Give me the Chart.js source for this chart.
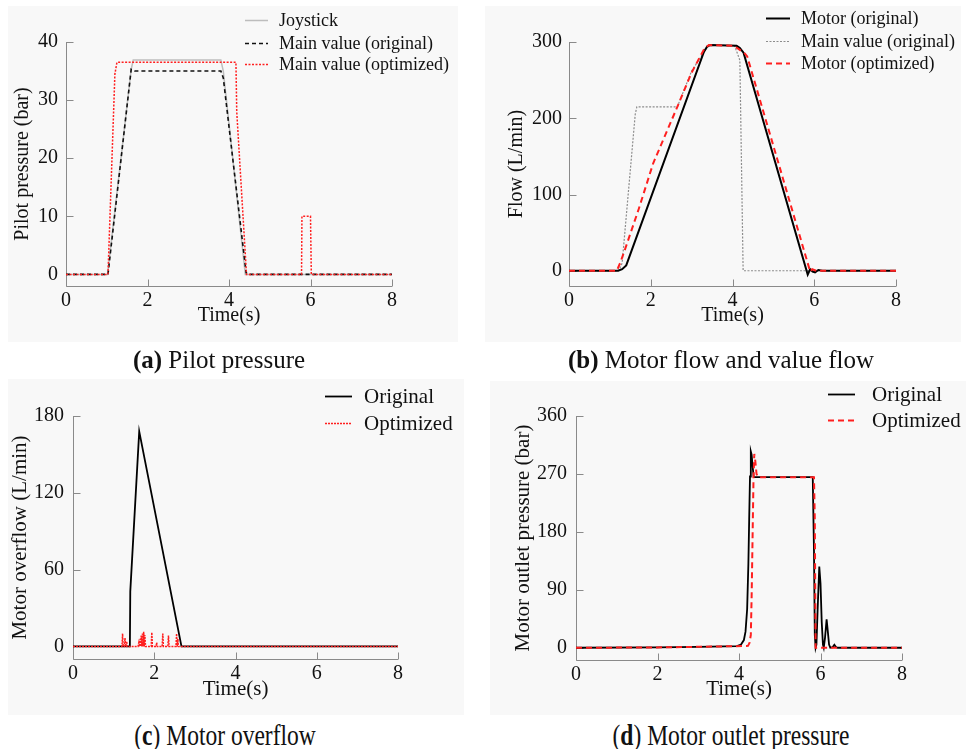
<!DOCTYPE html>
<html>
<head>
<meta charset="utf-8">
<script src="https://cdn.jsdelivr.net/npm/chart.js@4.4.1/dist/chart.umd.min.js"></script>
<style>
  html, body { margin: 0; padding: 0; background: #ffffff; }
  #fig { position: relative; width: 966px; height: 749px; overflow: hidden; font-family: 'Liberation Serif', 'Times New Roman', serif; }
  .bg { position: absolute; background: #f8f8f8; }
  canvas { position: absolute; }
  .cap { position: absolute; font-size: 25px; line-height: 25px; color: #111; white-space: nowrap; transform: translateX(-50%); }
  .cap.tall { transform: translateX(-50%) scale(0.94, 1.18); transform-origin: 50% 50%; }
  .cap b { font-weight: bold; }
</style>
</head>
<body>
<div id="fig">
  <div class="bg" style="left:8px;top:6px;width:450px;height:336px"></div>
  <div class="bg" style="left:485px;top:6px;width:476px;height:336px"></div>
  <div class="bg" style="left:8px;top:379px;width:456px;height:336px"></div>
  <div class="bg" style="left:490px;top:381px;width:476px;height:334px"></div>
  <canvas id="cA" width="480" height="345" style="left:0;top:0"></canvas>
  <canvas id="cB" width="486" height="345" style="left:480px;top:0"></canvas>
  <canvas id="cC" width="480" height="340" style="left:0;top:370px"></canvas>
  <canvas id="cD" width="486" height="340" style="left:480px;top:370px"></canvas>
  <div class="cap" style="left:219px;top:347px"><b>(a)</b> Pilot pressure</div>
  <div class="cap" style="left:721px;top:347px"><b>(b)</b> Motor flow and value flow</div>
  <div class="cap tall" style="left:225px;top:722px">(<b>c</b>) Motor overflow</div>
  <div class="cap tall" style="left:731px;top:722px">(<b>d</b>) Motor outlet pressure</div>
</div>
<script>
// ---- Shared time axis ----
const timeTicks = [0, 2, 4, 6, 8];

// ---- (a) Pilot pressure (bar) ----
const pilotTicks = [0, 10, 20, 30, 40];
const joystickTime = [0, 1.02, 1.6, 1.65, 3.8, 3.86, 4.4, 8];
const joystickVal  = [0, 0, 35.3, 36.9, 36.9, 35.0, 0, 0];
const mainOrigTime = [0, 1.03, 1.6, 1.68, 3.8, 3.86, 4.42, 4.46, 8];
const mainOrigVal  = [0, 0, 35.3, 35.0, 35.0, 33.8, 0.3, 0, 0];
const mainOptTime  = [0, 1.03, 1.2, 1.25, 4.17, 4.19, 4.43, 5.78, 5.79, 6.0, 6.02, 8];
const mainOptVal   = [0, 0, 34.5, 36.5, 36.5, 28.0, 0, 0, 10, 10, 0, 0];

// ---- (b) Motor flow and valve flow (L/min) ----
const flowTicks = [0, 100, 200, 300];
const motorOrigTime = [0, 1.2, 1.3, 1.4, 3.3, 3.38, 3.45, 4.1, 4.18, 4.27, 5.84, 5.9, 5.96, 6.02, 6.1, 6.2, 8];
const motorOrigVal  = [0, 0, 2, 7, 287, 294, 296, 295, 292, 286, -5, 2, -1, -2, 1, 0, 0];
const valveOrigTime = [0, 1.22, 1.3, 1.62, 1.66, 2.65, 3.0, 3.38, 3.45, 4.05, 4.1, 4.18, 4.26, 8];
const valveOrigVal  = [0, 0, 10, 205, 215, 215, 262, 293, 296, 295, 288, 276, 0, 0];
const motorOptTime  = [0, 1.17, 1.25, 1.37, 1.7, 2.06, 2.65, 3.0, 3.3, 3.42, 4.0, 4.12, 4.3, 4.36, 5.9, 5.95, 6.05, 8];
const motorOptVal   = [0, 0, 10, 28, 80, 141, 215, 260, 290, 296, 295, 292, 285, 281, -1, 2, 0, 0];

// ---- (c) Motor overflow (L/min) ----
const overflowTicks = [0, 60, 120, 180];
const overOrigTime = [0, 1.4, 1.41, 1.63, 2.67, 8];
const overOrigVal  = [0, 0, 43, 168, 0, 0];
const overOptTime = [0, 1.205, 1.22, 1.235, 1.265, 1.28, 1.295, 1.31, 1.32, 1.33,
                     1.6, 1.62, 1.635, 1.65, 1.665, 1.68, 1.695, 1.71, 1.725, 1.74, 1.755, 1.77, 1.785,
                     1.925, 1.94, 1.955, 2.045, 2.06, 2.075, 2.195, 2.21, 2.225,
                     2.335, 2.35, 2.365, 2.535, 2.55, 2.565, 2.58, 2.595, 8];
const overOptVal  = [0, 0, 10, 0, 0, 6.5, 0, 0, 4, 0,
                     0, 3, 0, 6, 0, 8.5, 0, 10, 0, 11.5, 0, 9, 0,
                     0, 11, 0, 0, 3, 0, 0, 10, 0,
                     0, 8.5, 0, 0, 10, 0, 6, 0, 0];

// ---- (d) Motor outlet pressure (bar) ----
const outletTicks = [0, 90, 180, 270, 360];
const outletOrigTime = [0, 2, 3, 3.95, 4.05, 4.12, 4.16, 4.2, 4.23, 4.25, 4.27, 4.29, 4.31, 4.33, 4.36,
                        5.81, 5.84, 5.86, 5.88, 5.9, 5.93, 5.97, 6.0, 6.03, 6.06, 6.08, 6.11, 6.15, 6.18, 6.21, 6.24,
                        6.3, 6.34, 6.38, 6.42, 8];
const outletOrigVal  = [0, 0.5, 1.5, 2.5, 5, 12, 25, 60, 130, 200, 266, 305, 300, 285, 265,
                        265, 150, 20, 0, 5, 60, 126, 100, 40, 5, 0, 15, 44, 25, 5, 0,
                        1, 4.7, 1, 0, 0];
const outletOptTime  = [0, 2, 3, 3.9, 4.22, 4.26, 4.29, 4.31, 4.34, 4.355, 4.375, 4.4, 4.43, 4.47, 5.84, 5.86, 5.88, 8];
const outletOptVal   = [0, 0.5, 1.5, 2.5, 3, 8, 20, 79, 200, 260, 301, 290, 270, 265, 265, 200, 0, 0];

const FONT = "'Liberation Serif', 'Times New Roman', serif";
const INK = '#111111';
const AXIS = '#8a8a8a';
const RED = '#ff1f1f';

function pts(ts, vs) { return ts.map((t, i) => ({ x: t, y: vs[i] })); }

// Left/bottom axis lines with short inward tick marks
const axesFrame = {
  id: 'axesFrame',
  beforeDatasetsDraw(chart) {
    const { ctx, chartArea: a, scales: { x, y } } = chart;
    const len = 7;
    ctx.save();
    ctx.strokeStyle = AXIS;
    ctx.lineWidth = 1;
    ctx.beginPath();
    const L = Math.round(a.left) + 0.5, B = Math.round(a.bottom) + 0.5;
    ctx.moveTo(L, a.top);
    ctx.lineTo(L, B);
    ctx.lineTo(a.right, B);
    x.ticks.forEach(t => {
      const px = Math.round(x.getPixelForValue(t.value)) + 0.5;
      ctx.moveTo(px, B); ctx.lineTo(px, B - len);
    });
    y.ticks.forEach(t => {
      const py = Math.round(y.getPixelForValue(t.value)) + 0.5;
      ctx.moveTo(L, py); ctx.lineTo(L + len, py);
    });
    ctx.stroke();
    ctx.restore();
  }
};

// Line-sample key placed over the upper-right corner
const lineKey = {
  id: 'lineKey',
  afterDatasetsDraw(chart, args, o) {
    const { ctx } = chart;
    chart.data.datasets.forEach((ds, i) => {
      const yy = o.rows[i];
      ctx.save();
      ctx.strokeStyle = ds.borderColor;
      ctx.lineWidth = ds.borderWidth;
      ctx.setLineDash(ds.borderDash || []);
      ctx.beginPath();
      ctx.moveTo(o.x0, yy + 0.5);
      ctx.lineTo(o.x1, yy + 0.5);
      ctx.stroke();
      ctx.setLineDash([]);
      ctx.fillStyle = INK;
      ctx.font = o.size + 'px ' + FONT;
      ctx.textAlign = 'left';
      ctx.textBaseline = 'middle';
      ctx.fillText(ds.label, o.tx, yy + 1);
      ctx.restore();
    });
  }
};

function line(label, ts, vs, color, width, dash, order, extra) {
  return Object.assign({
    label, data: pts(ts, vs), borderColor: color, borderWidth: width,
    borderDash: dash, pointRadius: 0, tension: 0, fill: false, order
  }, extra || {});
}

function makeChart(id, cfg, datasets) {
  const c = document.getElementById(id);
  const W = c.width, H = c.height;
  return new Chart(c, {
    type: 'line',
    data: { datasets },
    options: {
      responsive: false, animation: false, devicePixelRatio: 1,
      layout: { padding: { left: 0, top: cfg.top, right: W - cfg.right, bottom: 0 } },
      plugins: { legend: { display: false }, tooltip: { enabled: false }, lineKey: cfg.key },
      scales: {
        x: {
          type: 'linear', min: 0, max: 8,
          afterBuildTicks: s => { s.ticks = timeTicks.map(v => ({ value: v })); },
          afterFit: s => { s.height = H - cfg.bottom; },
          grid: { display: false, drawTicks: false }, border: { display: false },
          ticks: { font: { family: FONT, size: cfg.tick }, color: INK, padding: 3, maxRotation: 0 },
          title: { display: true, text: 'Time(s)', color: INK, font: { family: FONT, size: cfg.tsize }, padding: { top: 0, bottom: cfg.xTitlePad } }
        },
        y: {
          type: 'linear', min: cfg.ymin, max: cfg.ymax,
          afterBuildTicks: s => { s.ticks = cfg.yticks.map(v => ({ value: v })); },
          afterFit: s => { s.width = cfg.left; },
          grid: { display: false, drawTicks: false }, border: { display: false },
          ticks: { font: { family: FONT, size: cfg.tick }, color: INK, padding: cfg.ypad },
          title: { display: true, text: cfg.ytitle, color: INK, font: { family: FONT, size: cfg.tsize }, padding: { top: cfg.yTitlePad, bottom: 0 } }
        }
      }
    },
    plugins: [axesFrame, lineKey]
  });
}

makeChart('cA', {
  left: 66, right: 392, top: 42, bottom: 286, ymin: -2, ymax: 40, yticks: pilotTicks,
  tick: 20, tsize: 20, ypad: 8, xTitlePad: 17, yTitlePad: 11, ytitle: 'Pilot pressure (bar)',
  key: { x0: 245, x1: 268, tx: 279, rows: [20, 43, 64], size: 18 }
}, [
  line('Joystick', joystickTime, joystickVal, '#bdbdbd', 1.5, [], 3),
  line('Main value (original)', mainOrigTime, mainOrigVal, '#111111', 1.6, [4, 3], 2),
  line('Main value (optimized)', mainOptTime, mainOptVal, RED, 1.5, [2, 1.5], 1)
]);

makeChart('cB', {
  left: 89, right: 416, top: 42, bottom: 286, ymin: -20, ymax: 300, yticks: flowTicks,
  tick: 20, tsize: 20, ypad: 7, xTitlePad: 17, yTitlePad: 25, ytitle: 'Flow (L/min)',
  key: { x0: 286, x1: 310, tx: 321, rows: [18, 41, 63], size: 18 }
}, [
  line('Motor (original)', motorOrigTime, motorOrigVal, '#000000', 2, [], 2),
  line('Main value (original)', valveOrigTime, valveOrigVal, '#8c8c8c', 1.2, [2, 1.5], 3),
  line('Motor (optimized)', motorOptTime, motorOptVal, RED, 2, [6, 4], 1)
]);

makeChart('cC', {
  left: 73, right: 398, top: 46, bottom: 289, ymin: -9.8, ymax: 180, yticks: overflowTicks,
  tick: 20, tsize: 21, ypad: 9, xTitlePad: 8, yTitlePad: 8, ytitle: 'Motor overflow (L/min)',
  key: { x0: 325, x1: 352, tx: 364, rows: [26, 53], size: 21 }
}, [
  line('Original', overOrigTime, overOrigVal, '#000000', 1.8, [], 2),
  line('Optimized', overOptTime, overOptVal, RED, 1.5, [2, 1], 1)
]);

makeChart('cD', {
  left: 96, right: 422, top: 46, bottom: 290, ymin: -19, ymax: 360, yticks: outletTicks,
  tick: 20, tsize: 21, ypad: 9, xTitlePad: 8, yTitlePad: 31, ytitle: 'Motor outlet pressure (bar)',
  key: { x0: 348, x1: 375, tx: 392, rows: [24, 50], size: 21 }
}, [
  line('Original', outletOrigTime, outletOrigVal, '#000000', 1.8, [], 2),
  line('Optimized', outletOptTime, outletOptVal, RED, 2, [6, 4], 1)
]);
</script>
</body>
</html>
